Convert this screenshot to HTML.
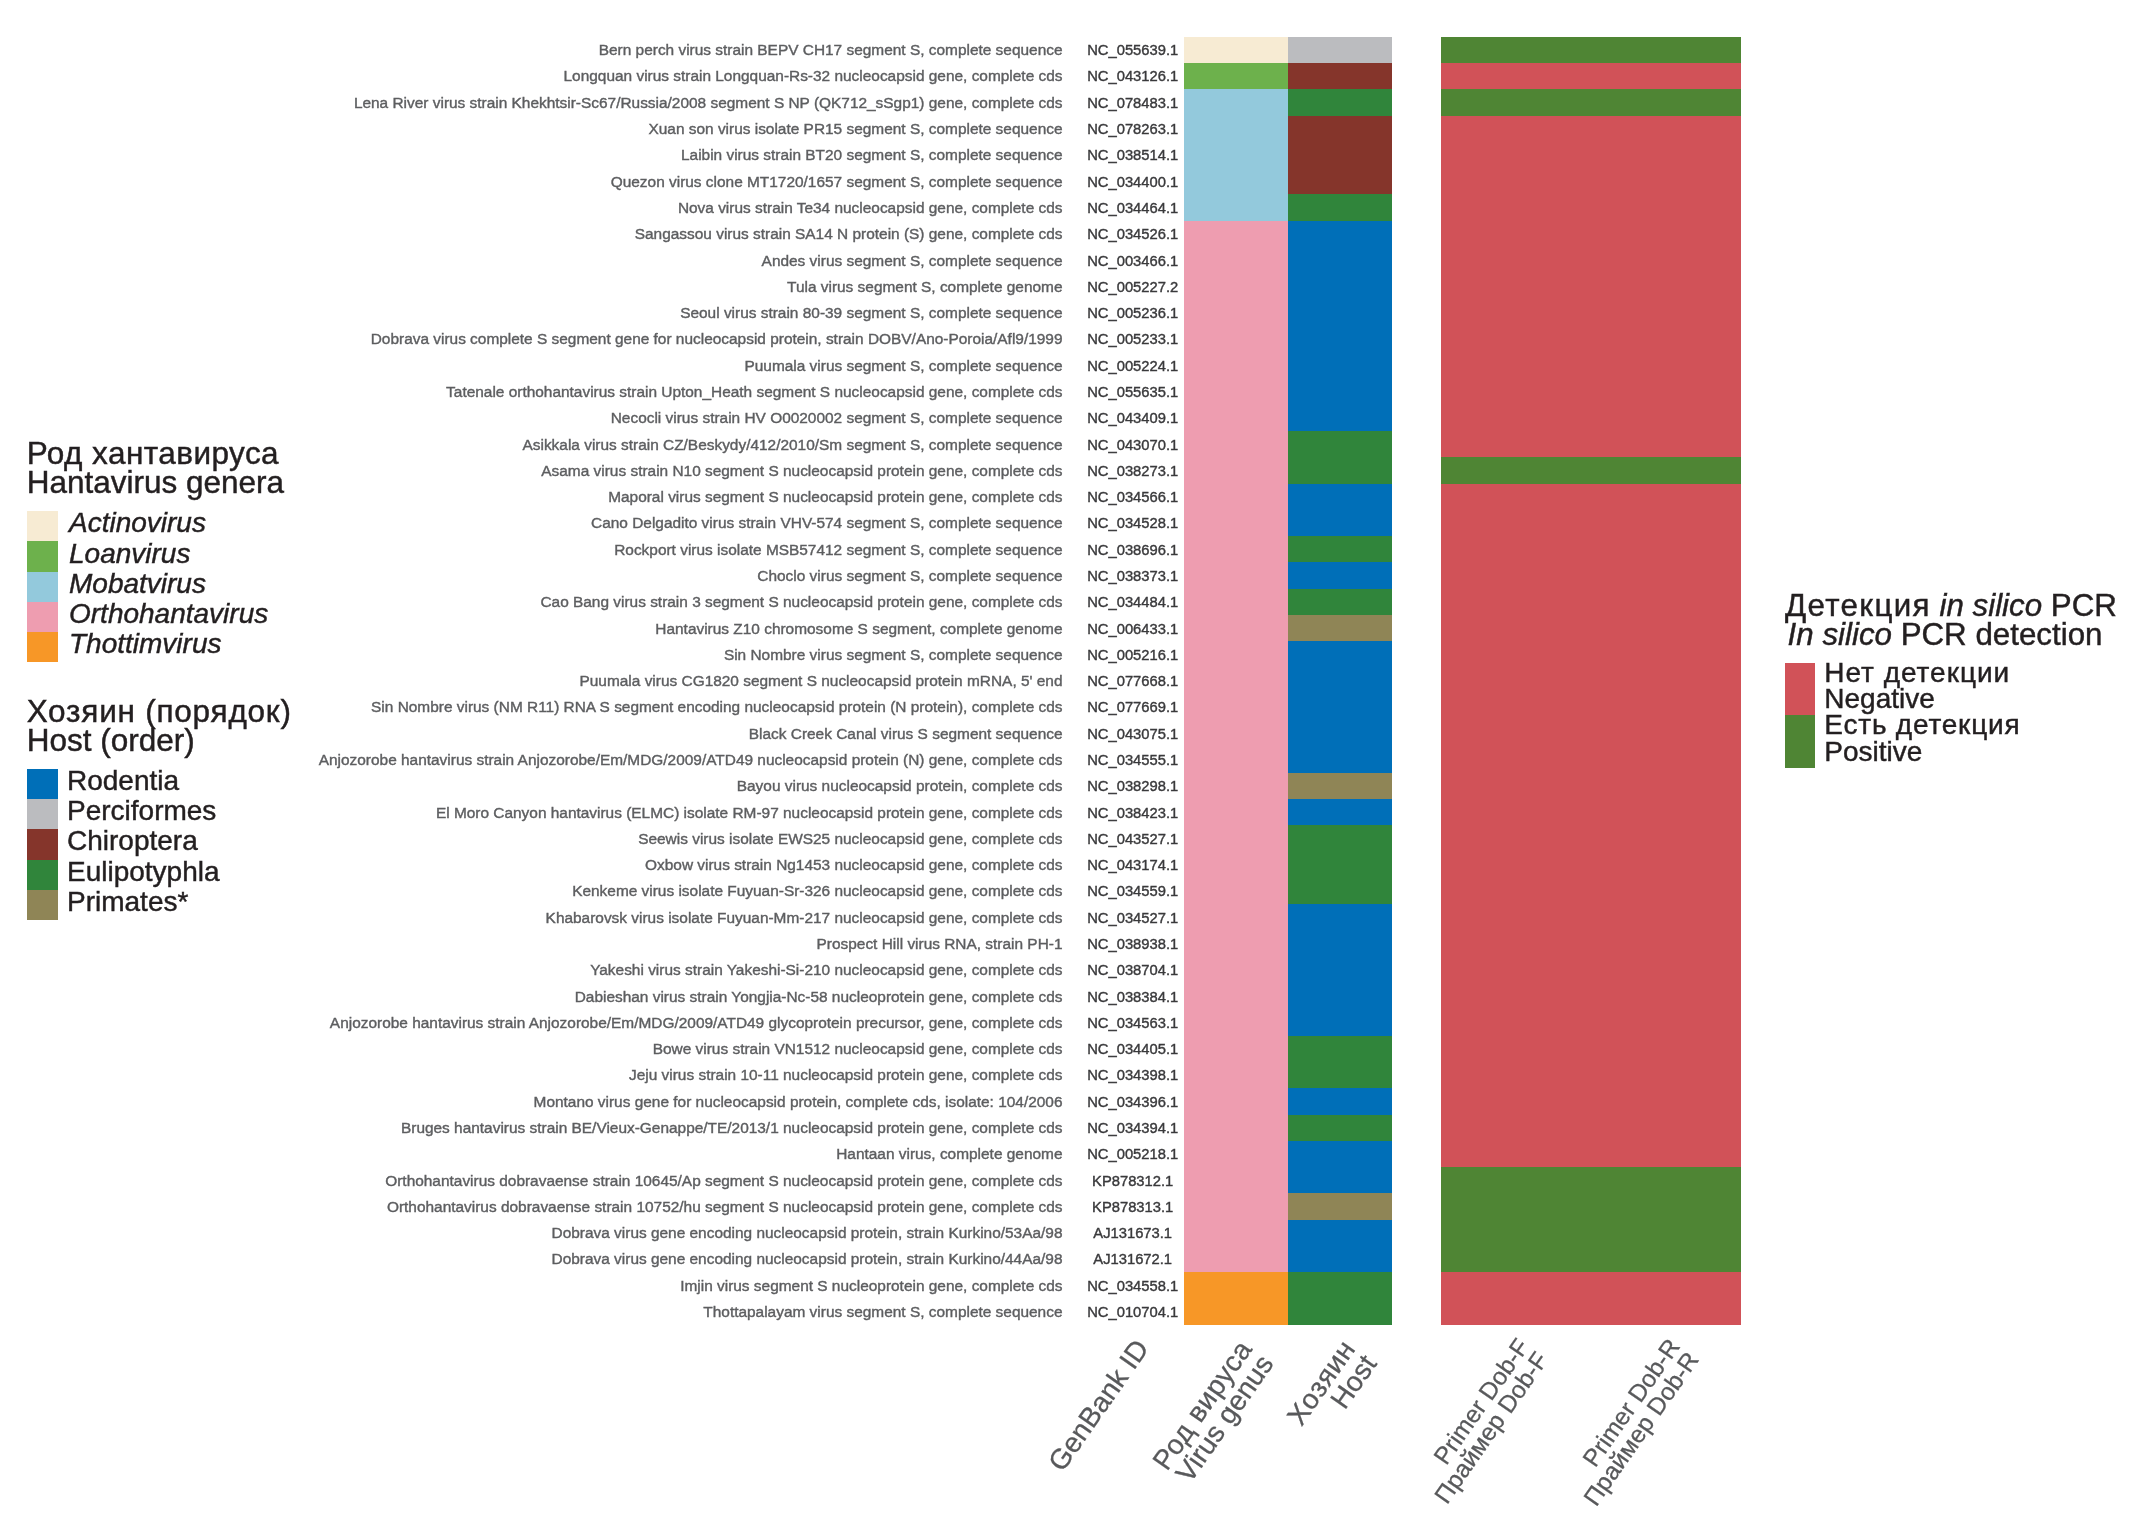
<!DOCTYPE html>
<html lang="ru"><head><meta charset="utf-8"><title>In silico PCR detection of hantaviruses</title>
<style>
html,body{margin:0;padding:0;background:#fff;}
body{width:2149px;height:1537px;position:relative;overflow:hidden;font-family:"Liberation Sans",sans-serif;}
.b{position:absolute;}
.n{position:absolute;white-space:nowrap;text-align:right;right:1086.50px;font-size:15.43px;color:#5d5e60;line-height:20px;height:20px;}
.i{position:absolute;white-space:nowrap;text-align:center;left:1072.70px;width:120px;font-size:14.75px;color:#3a3a3c;line-height:20px;height:20px;}
.n,.i{-webkit-text-stroke:0.4px currentColor;}
.lt,.le{-webkit-text-stroke:0.45px currentColor;}
.ax{-webkit-text-stroke:0.3px currentColor;}
#w{position:absolute;left:0;top:0;width:2149px;height:1537px;filter:blur(0.7px);}
.lt{position:absolute;white-space:nowrap;color:#231f20;}
.le{position:absolute;white-space:nowrap;color:#231f20;}
.ax{position:absolute;white-space:nowrap;text-align:right;color:#58595b;transform-origin:100% 0;}
i{font-style:italic;}
</style></head><body><div id="w">

<div class="n" style="top:40.19px">Bern perch virus strain BEPV CH17 segment S, complete sequence</div><div class="i" style="top:40.19px">NC_055639.1</div>
<div class="n" style="top:66.48px">Longquan virus strain Longquan-Rs-32 nucleocapsid gene, complete cds</div><div class="i" style="top:66.48px">NC_043126.1</div>
<div class="n" style="top:92.77px">Lena River virus strain Khekhtsir-Sc67/Russia/2008 segment S NP (QK712_sSgp1) gene, complete cds</div><div class="i" style="top:92.77px">NC_078483.1</div>
<div class="n" style="top:119.06px">Xuan son virus isolate PR15 segment S, complete sequence</div><div class="i" style="top:119.06px">NC_078263.1</div>
<div class="n" style="top:145.34px">Laibin virus strain BT20 segment S, complete sequence</div><div class="i" style="top:145.34px">NC_038514.1</div>
<div class="n" style="top:171.63px">Quezon virus clone MT1720/1657 segment S, complete sequence</div><div class="i" style="top:171.63px">NC_034400.1</div>
<div class="n" style="top:197.92px">Nova virus strain Te34 nucleocapsid gene, complete cds</div><div class="i" style="top:197.92px">NC_034464.1</div>
<div class="n" style="top:224.21px">Sangassou virus strain SA14 N protein (S) gene, complete cds</div><div class="i" style="top:224.21px">NC_034526.1</div>
<div class="n" style="top:250.50px">Andes virus segment S, complete sequence</div><div class="i" style="top:250.50px">NC_003466.1</div>
<div class="n" style="top:276.78px">Tula virus segment S, complete genome</div><div class="i" style="top:276.78px">NC_005227.2</div>
<div class="n" style="top:303.07px">Seoul virus strain 80-39 segment S, complete sequence</div><div class="i" style="top:303.07px">NC_005236.1</div>
<div class="n" style="top:329.36px">Dobrava virus complete S segment gene for nucleocapsid protein, strain DOBV/Ano-Poroia/Afl9/1999</div><div class="i" style="top:329.36px">NC_005233.1</div>
<div class="n" style="top:355.65px">Puumala virus segment S, complete sequence</div><div class="i" style="top:355.65px">NC_005224.1</div>
<div class="n" style="top:381.93px">Tatenale orthohantavirus strain Upton_Heath segment S nucleocapsid gene, complete cds</div><div class="i" style="top:381.93px">NC_055635.1</div>
<div class="n" style="top:408.22px">Necocli virus strain HV O0020002 segment S, complete sequence</div><div class="i" style="top:408.22px">NC_043409.1</div>
<div class="n" style="top:434.51px">Asikkala virus strain CZ/Beskydy/412/2010/Sm segment S, complete sequence</div><div class="i" style="top:434.51px">NC_043070.1</div>
<div class="n" style="top:460.80px">Asama virus strain N10 segment S nucleocapsid protein gene, complete cds</div><div class="i" style="top:460.80px">NC_038273.1</div>
<div class="n" style="top:487.09px">Maporal virus segment S nucleocapsid protein gene, complete cds</div><div class="i" style="top:487.09px">NC_034566.1</div>
<div class="n" style="top:513.37px">Cano Delgadito virus strain VHV-574 segment S, complete sequence</div><div class="i" style="top:513.37px">NC_034528.1</div>
<div class="n" style="top:539.66px">Rockport virus isolate MSB57412 segment S, complete sequence</div><div class="i" style="top:539.66px">NC_038696.1</div>
<div class="n" style="top:565.95px">Choclo virus segment S, complete sequence</div><div class="i" style="top:565.95px">NC_038373.1</div>
<div class="n" style="top:592.24px">Cao Bang virus strain 3 segment S nucleocapsid protein gene, complete cds</div><div class="i" style="top:592.24px">NC_034484.1</div>
<div class="n" style="top:618.52px">Hantavirus Z10 chromosome S segment, complete genome</div><div class="i" style="top:618.52px">NC_006433.1</div>
<div class="n" style="top:644.81px">Sin Nombre virus segment S, complete sequence</div><div class="i" style="top:644.81px">NC_005216.1</div>
<div class="n" style="top:671.10px">Puumala virus CG1820 segment S nucleocapsid protein mRNA, 5' end</div><div class="i" style="top:671.10px">NC_077668.1</div>
<div class="n" style="top:697.39px">Sin Nombre virus (NM R11) RNA S segment encoding nucleocapsid protein (N protein), complete cds</div><div class="i" style="top:697.39px">NC_077669.1</div>
<div class="n" style="top:723.68px">Black Creek Canal virus S segment sequence</div><div class="i" style="top:723.68px">NC_043075.1</div>
<div class="n" style="top:749.96px">Anjozorobe hantavirus strain Anjozorobe/Em/MDG/2009/ATD49 nucleocapsid protein (N) gene, complete cds</div><div class="i" style="top:749.96px">NC_034555.1</div>
<div class="n" style="top:776.25px">Bayou virus nucleocapsid protein, complete cds</div><div class="i" style="top:776.25px">NC_038298.1</div>
<div class="n" style="top:802.54px">El Moro Canyon hantavirus (ELMC) isolate RM-97 nucleocapsid protein gene, complete cds</div><div class="i" style="top:802.54px">NC_038423.1</div>
<div class="n" style="top:828.83px">Seewis virus isolate EWS25 nucleocapsid gene, complete cds</div><div class="i" style="top:828.83px">NC_043527.1</div>
<div class="n" style="top:855.11px">Oxbow virus strain Ng1453 nucleocapsid gene, complete cds</div><div class="i" style="top:855.11px">NC_043174.1</div>
<div class="n" style="top:881.40px">Kenkeme virus isolate Fuyuan-Sr-326 nucleocapsid gene, complete cds</div><div class="i" style="top:881.40px">NC_034559.1</div>
<div class="n" style="top:907.69px">Khabarovsk virus isolate Fuyuan-Mm-217 nucleocapsid gene, complete cds</div><div class="i" style="top:907.69px">NC_034527.1</div>
<div class="n" style="top:933.98px">Prospect Hill virus RNA, strain PH-1</div><div class="i" style="top:933.98px">NC_038938.1</div>
<div class="n" style="top:960.27px">Yakeshi virus strain Yakeshi-Si-210 nucleocapsid gene, complete cds</div><div class="i" style="top:960.27px">NC_038704.1</div>
<div class="n" style="top:986.55px">Dabieshan virus strain Yongjia-Nc-58 nucleoprotein gene, complete cds</div><div class="i" style="top:986.55px">NC_038384.1</div>
<div class="n" style="top:1012.84px">Anjozorobe hantavirus strain Anjozorobe/Em/MDG/2009/ATD49 glycoprotein precursor, gene, complete cds</div><div class="i" style="top:1012.84px">NC_034563.1</div>
<div class="n" style="top:1039.13px">Bowe virus strain VN1512 nucleocapsid gene, complete cds</div><div class="i" style="top:1039.13px">NC_034405.1</div>
<div class="n" style="top:1065.42px">Jeju virus strain 10-11 nucleocapsid protein gene, complete cds</div><div class="i" style="top:1065.42px">NC_034398.1</div>
<div class="n" style="top:1091.70px">Montano virus gene for nucleocapsid protein, complete cds, isolate: 104/2006</div><div class="i" style="top:1091.70px">NC_034396.1</div>
<div class="n" style="top:1117.99px">Bruges hantavirus strain BE/Vieux-Genappe/TE/2013/1 nucleocapsid protein gene, complete cds</div><div class="i" style="top:1117.99px">NC_034394.1</div>
<div class="n" style="top:1144.28px">Hantaan virus, complete genome</div><div class="i" style="top:1144.28px">NC_005218.1</div>
<div class="n" style="top:1170.57px">Orthohantavirus dobravaense strain 10645/Ap segment S nucleocapsid protein gene, complete cds</div><div class="i" style="top:1170.57px">KP878312.1</div>
<div class="n" style="top:1196.86px">Orthohantavirus dobravaense strain 10752/hu segment S nucleocapsid protein gene, complete cds</div><div class="i" style="top:1196.86px">KP878313.1</div>
<div class="n" style="top:1223.14px">Dobrava virus gene encoding nucleocapsid protein, strain Kurkino/53Aa/98</div><div class="i" style="top:1223.14px">AJ131673.1</div>
<div class="n" style="top:1249.43px">Dobrava virus gene encoding nucleocapsid protein, strain Kurkino/44Aa/98</div><div class="i" style="top:1249.43px">AJ131672.1</div>
<div class="n" style="top:1275.72px">Imjin virus segment S nucleoprotein gene, complete cds</div><div class="i" style="top:1275.72px">NC_034558.1</div>
<div class="n" style="top:1302.01px">Thottapalayam virus segment S, complete sequence</div><div class="i" style="top:1302.01px">NC_010704.1</div>
<div class="b" style="left:1184.40px;top:36.70px;width:103.60px;height:26.89px;background:#f7ebd3"></div>
<div class="b" style="left:1184.40px;top:62.99px;width:103.60px;height:26.89px;background:#6db14c"></div>
<div class="b" style="left:1184.40px;top:89.28px;width:103.60px;height:132.04px;background:#93c9dc"></div>
<div class="b" style="left:1184.40px;top:220.71px;width:103.60px;height:1052.11px;background:#ee9db0"></div>
<div class="b" style="left:1184.40px;top:1272.22px;width:103.60px;height:52.58px;background:#f79727"></div>
<div class="b" style="left:1288.00px;top:36.70px;width:103.80px;height:26.89px;background:#bbbcbf"></div>
<div class="b" style="left:1288.00px;top:62.99px;width:103.80px;height:26.89px;background:#85352b"></div>
<div class="b" style="left:1288.00px;top:89.28px;width:103.80px;height:26.89px;background:#30853b"></div>
<div class="b" style="left:1288.00px;top:115.56px;width:103.80px;height:79.46px;background:#85352b"></div>
<div class="b" style="left:1288.00px;top:194.43px;width:103.80px;height:26.89px;background:#30853b"></div>
<div class="b" style="left:1288.00px;top:220.71px;width:103.80px;height:210.90px;background:#006fb8"></div>
<div class="b" style="left:1288.00px;top:431.02px;width:103.80px;height:53.18px;background:#30853b"></div>
<div class="b" style="left:1288.00px;top:483.59px;width:103.80px;height:53.18px;background:#006fb8"></div>
<div class="b" style="left:1288.00px;top:536.17px;width:103.80px;height:26.89px;background:#30853b"></div>
<div class="b" style="left:1288.00px;top:562.46px;width:103.80px;height:26.89px;background:#006fb8"></div>
<div class="b" style="left:1288.00px;top:588.74px;width:103.80px;height:26.89px;background:#30853b"></div>
<div class="b" style="left:1288.00px;top:615.03px;width:103.80px;height:26.89px;background:#8f8556"></div>
<div class="b" style="left:1288.00px;top:641.32px;width:103.80px;height:132.04px;background:#006fb8"></div>
<div class="b" style="left:1288.00px;top:772.76px;width:103.80px;height:26.89px;background:#8f8556"></div>
<div class="b" style="left:1288.00px;top:799.04px;width:103.80px;height:26.89px;background:#006fb8"></div>
<div class="b" style="left:1288.00px;top:825.33px;width:103.80px;height:79.46px;background:#30853b"></div>
<div class="b" style="left:1288.00px;top:904.20px;width:103.80px;height:132.04px;background:#006fb8"></div>
<div class="b" style="left:1288.00px;top:1035.63px;width:103.80px;height:53.18px;background:#30853b"></div>
<div class="b" style="left:1288.00px;top:1088.21px;width:103.80px;height:26.89px;background:#006fb8"></div>
<div class="b" style="left:1288.00px;top:1114.50px;width:103.80px;height:26.89px;background:#30853b"></div>
<div class="b" style="left:1288.00px;top:1140.79px;width:103.80px;height:53.18px;background:#006fb8"></div>
<div class="b" style="left:1288.00px;top:1193.36px;width:103.80px;height:26.89px;background:#8f8556"></div>
<div class="b" style="left:1288.00px;top:1219.65px;width:103.80px;height:53.18px;background:#006fb8"></div>
<div class="b" style="left:1288.00px;top:1272.22px;width:103.80px;height:52.58px;background:#30853b"></div>
<div class="b" style="left:1440.80px;top:36.70px;width:300.50px;height:26.89px;background:#4f8534"></div>
<div class="b" style="left:1440.80px;top:62.99px;width:300.50px;height:26.89px;background:#d15258"></div>
<div class="b" style="left:1440.80px;top:89.28px;width:300.50px;height:26.89px;background:#4f8534"></div>
<div class="b" style="left:1440.80px;top:115.56px;width:300.50px;height:342.34px;background:#d15258"></div>
<div class="b" style="left:1440.80px;top:457.30px;width:300.50px;height:26.89px;background:#4f8534"></div>
<div class="b" style="left:1440.80px;top:483.59px;width:300.50px;height:684.08px;background:#d15258"></div>
<div class="b" style="left:1440.80px;top:1167.07px;width:300.50px;height:105.75px;background:#4f8534"></div>
<div class="b" style="left:1440.80px;top:1272.22px;width:300.50px;height:52.58px;background:#d15258"></div>
<div class="lt" style="left:26.70px;top:432.59px;font-size:31.5px;line-height:41px;letter-spacing:0.45px;">Род хантавируса</div>
<div class="lt" style="left:26.70px;top:462.19px;font-size:31.5px;line-height:41px;">Hantavirus genera</div>
<div class="b" style="left:27.30px;top:511.10px;width:30.30px;height:30.52px;background:#f7ebd3"></div>
<div class="le" style="left:69.00px;top:505.40px;font-size:28.0px;line-height:36px;"><i>Actinovirus</i></div>
<div class="b" style="left:27.30px;top:541.32px;width:30.30px;height:30.52px;background:#6db14c"></div>
<div class="le" style="left:69.00px;top:535.62px;font-size:28.0px;line-height:36px;"><i>Loanvirus</i></div>
<div class="b" style="left:27.30px;top:571.54px;width:30.30px;height:30.52px;background:#93c9dc"></div>
<div class="le" style="left:69.00px;top:565.84px;font-size:28.0px;line-height:36px;"><i>Mobatvirus</i></div>
<div class="b" style="left:27.30px;top:601.76px;width:30.30px;height:30.52px;background:#ee9db0"></div>
<div class="le" style="left:69.00px;top:596.06px;font-size:28.0px;line-height:36px;"><i>Orthohantavirus</i></div>
<div class="b" style="left:27.30px;top:631.98px;width:30.30px;height:30.52px;background:#f79727"></div>
<div class="le" style="left:69.00px;top:626.28px;font-size:28.0px;line-height:36px;"><i>Thottimvirus</i></div>
<div class="lt" style="left:26.70px;top:690.59px;font-size:31.5px;line-height:41px;letter-spacing:0.78px;">Хозяин (порядок)</div>
<div class="lt" style="left:26.70px;top:719.89px;font-size:31.5px;line-height:41px;">Host (order)</div>
<div class="b" style="left:27.30px;top:768.90px;width:30.30px;height:30.52px;background:#006fb8"></div>
<div class="le" style="left:67.00px;top:762.95px;font-size:28.0px;line-height:36px;">Rodentia</div>
<div class="b" style="left:27.30px;top:799.12px;width:30.30px;height:30.52px;background:#bbbcbf"></div>
<div class="le" style="left:67.00px;top:793.17px;font-size:28.0px;line-height:36px;">Perciformes</div>
<div class="b" style="left:27.30px;top:829.34px;width:30.30px;height:30.52px;background:#85352b"></div>
<div class="le" style="left:67.00px;top:823.39px;font-size:28.0px;line-height:36px;">Chiroptera</div>
<div class="b" style="left:27.30px;top:859.56px;width:30.30px;height:30.52px;background:#30853b"></div>
<div class="le" style="left:67.00px;top:853.61px;font-size:28.0px;line-height:36px;">Eulipotyphla</div>
<div class="b" style="left:27.30px;top:889.78px;width:30.30px;height:30.52px;background:#8f8556"></div>
<div class="le" style="left:67.00px;top:883.83px;font-size:28.0px;line-height:36px;">Primates*</div>
<div class="lt" style="left:1785.00px;top:584.85px;font-size:31.3px;line-height:41px;"><span style="letter-spacing:1.35px">Детекция</span> <i>in silico</i> PCR</div>
<div class="lt" style="left:1787.60px;top:614.45px;font-size:31.3px;line-height:41px;"><i>In silico</i> PCR detection</div>
<div class="b" style="left:1785.20px;top:663.20px;width:30.20px;height:52.30px;background:#d15258"></div>
<div class="b" style="left:1785.20px;top:715.40px;width:30.20px;height:52.30px;background:#4f8534"></div>
<div class="le" style="left:1824.30px;top:654.70px;font-size:28.0px;line-height:36px;letter-spacing:0.98px;">Нет детекции</div>
<div class="le" style="left:1824.30px;top:680.50px;font-size:28.0px;line-height:36px;">Negative</div>
<div class="le" style="left:1824.30px;top:706.80px;font-size:28.0px;line-height:36px;letter-spacing:0.8px;">Есть детекция</div>
<div class="le" style="left:1824.30px;top:733.90px;font-size:28.0px;line-height:36px;">Positive</div>
<div class="ax" style="right:1006.00px;top:1329.80px;font-size:28px;line-height:26px;transform-origin:100% 50%;transform:rotate(-55deg);">GenBank ID</div>
<div class="ax" style="right:892.00px;top:1324.60px;font-size:28px;line-height:26px;transform-origin:100% 50%;transform:rotate(-55deg);"><span style="letter-spacing:0.5px">Род вируса</span><br>Virus genus</div>
<div class="ax" style="right:789.00px;top:1324.50px;font-size:28px;line-height:26px;transform-origin:100% 50%;transform:rotate(-55deg);"><span style="letter-spacing:0.5px">Хозяин</span><br>Host</div>
<div class="ax" style="right:616.00px;top:1324.80px;font-size:24.4px;line-height:23.2px;transform-origin:100% 50%;transform:rotate(-55deg);">Primer Dob-F<br><span style="letter-spacing:0.15px">Праймер</span> Dob-F</div>
<div class="ax" style="right:465.70px;top:1324.80px;font-size:24.4px;line-height:23.2px;transform-origin:100% 50%;transform:rotate(-55deg);">Primer Dob-R<br><span style="letter-spacing:0.15px">Праймер</span> Dob-R</div>
</div></body></html>
